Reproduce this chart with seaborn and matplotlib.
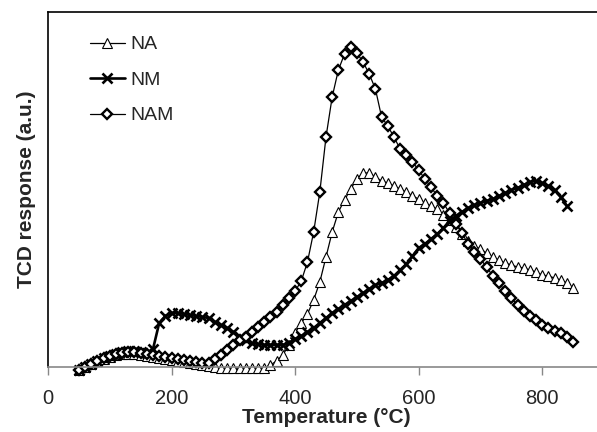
import numpy as np
import pandas as pd
import seaborn as sns
import matplotlib
matplotlib.use("Agg")
import matplotlib.pyplot as plt

# temperature grid (°C) and TCD signals (arbitrary units)
temp = list(range(50, 860, 10))
temp_nm = list(range(50, 850, 10))

na = [-3, 0, 3, 6, 8, 10, 12, 13, 13, 13,
      12, 11, 10, 9, 8, 7, 6, 5, 4, 3,
      2, 1, 0, -1, -1, -1, -1, -1, -1, -1,
      -1, 2, 6, 12, 22, 34, 44, 53, 67, 85,
      110, 135, 155, 167, 178, 188, 194, 194, 190, 186,
      184, 181, 178, 175, 171, 168, 164, 161, 158, 152,
      147, 140, 133, 126, 121, 118, 114, 110, 107, 104,
      102, 100, 99, 97, 95, 92, 91, 89, 87, 84,
      79]

nm = [-3, 0, 3, 6, 9, 11, 13, 15, 16, 16,
      15, 14, 18, 44, 51, 54, 54, 53, 52, 51,
      50, 49, 45, 42, 39, 35, 30, 27, 24, 23,
      22, 22, 22, 22, 24, 28, 31, 35, 39, 44,
      49, 54, 58, 62, 66, 70, 74, 78, 82, 84,
      87, 91, 97, 103, 111, 119, 123, 128, 133, 139,
      146, 151, 155, 159, 162, 164, 166, 168, 171, 174,
      177, 179, 182, 185, 186, 184, 181, 177, 170, 161]

nam = [-3, 0, 3, 6, 9, 11, 13, 14, 15, 15,
       14, 13, 12, 11, 10, 9, 8, 7, 6, 5,
       4, 4, 8, 12, 17, 22, 27, 30, 35, 40,
       45, 50, 55, 62, 69, 76, 86, 105, 135, 175,
       230, 270, 297, 313, 320, 314, 305, 293, 278, 250,
       241, 230, 218, 212, 205, 197, 188, 180, 171, 164,
       154, 143, 134, 123, 115, 108, 100, 91, 84, 76,
       69, 62, 56, 51, 47, 42, 39, 36, 34, 30,
       25]

sns.set_style("white")
plt.rcParams["font.family"] = ["Liberation Sans", "DejaVu Sans"]

fig = plt.figure(figsize=(5.97, 4.32), dpi=100)
ax = fig.add_axes([48 / 597, 65 / 432, 556 / 597, 355 / 432])

sns.lineplot(x=temp, y=na, ax=ax, sort=False, estimator=None, color="black",
             linewidth=0.9, marker="^", markersize=6.8, markerfacecolor="white",
             markeredgecolor="black", markeredgewidth=0.8, label="NA", clip_on=False)
sns.lineplot(x=temp_nm, y=nm, ax=ax, sort=False, estimator=None, color="black",
             linewidth=1.9, marker="x", markersize=6.5, markeredgecolor="black",
             markeredgewidth=1.9, label="NM", clip_on=False)
sns.lineplot(x=temp, y=nam, ax=ax, sort=False, estimator=None, color="black",
             linewidth=0.9, marker="D", markersize=4.8, markerfacecolor="white",
             markeredgecolor="black", markeredgewidth=1.7, label="NAM", clip_on=False)

ax.set_xlim(0, 900)
ax.set_ylim(0, 355)
ax.set_xticks([0, 200, 400, 600, 800])
ax.set_yticks([])
ax.tick_params(axis="x", direction="out", length=6, width=1, color="#888888",
               labelsize=14.5, pad=10, bottom=True)

for side in ["top", "left"]:
    ax.spines[side].set_color("black")
    ax.spines[side].set_linewidth(1.2)
ax.spines["bottom"].set_color("#888888")
ax.spines["bottom"].set_linewidth(1.2)
ax.spines["right"].set_visible(False)

ax.set_xlabel("Temperature (°C)", fontsize=15, fontweight="bold")
ax.set_ylabel("TCD response (a.u.)", fontsize=15, fontweight="bold")
ax.xaxis.set_label_coords(0.5, -0.115)
ax.yaxis.set_label_coords(-0.022, 0.5)

ax.legend(loc="upper left", bbox_to_anchor=(0.075, 0.933), frameon=False,
          fontsize=14, handlelength=1.8, handletextpad=0.3, labelspacing=0.92,
          borderpad=0, borderaxespad=0)

fig.savefig("out.png", dpi=100)
